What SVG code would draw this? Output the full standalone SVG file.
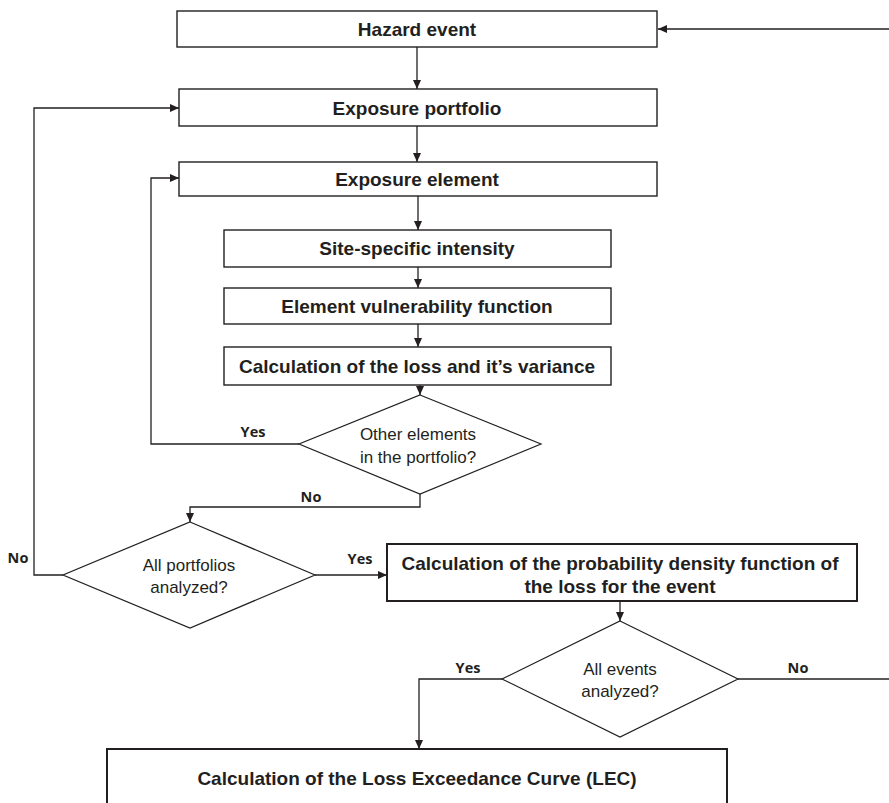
<svg xmlns="http://www.w3.org/2000/svg" width="889" height="803" viewBox="0 0 889 803">
<style>
.box{fill:#fff;stroke:#231f20;stroke-width:1.4}
.thick{stroke-width:2}
.dia{fill:#fff;stroke:#231f20;stroke-width:1.2}
.lbl{font-family:"Liberation Sans",Arial,sans-serif;font-weight:bold;font-size:19px;fill:#231f20;text-anchor:middle}
.q{font-family:"Liberation Sans",Arial,sans-serif;font-size:17px;fill:#231f20;text-anchor:middle}
.yn{font-family:"Open Sans","Liberation Sans",sans-serif;font-weight:bold;font-size:14.5px;fill:#231f20;text-anchor:middle}
.con{fill:none;stroke:#231f20;stroke-width:1.3}
</style>
<defs>
<marker id="ah" markerUnits="userSpaceOnUse" markerWidth="10" markerHeight="8" refX="9" refY="4" orient="auto">
<path d="M0,0 L9,4 L0,8 z" fill="#231f20"/>
</marker>
</defs>
<g id="connectors">
<path class="con" d="M889,29 H658" marker-end="url(#ah)"/>
<path class="con" d="M417,47 V89" marker-end="url(#ah)"/>
<path class="con" d="M417,126 V162" marker-end="url(#ah)"/>
<path class="con" d="M418,196 V230" marker-end="url(#ah)"/>
<path class="con" d="M418,267 V288" marker-end="url(#ah)"/>
<path class="con" d="M418,324 V347" marker-end="url(#ah)"/>
<path class="con" d="M420,385 V395" marker-end="url(#ah)"/>
<path class="con" d="M299,444 H151 V178 H179" marker-end="url(#ah)"/>
<path class="con" d="M420,494 V507 H190 V522" marker-end="url(#ah)"/>
<path class="con" d="M63,575 H34 V108 H179" marker-end="url(#ah)"/>
<path class="con" d="M315,575 H387" marker-end="url(#ah)"/>
<path class="con" d="M620,601 V621" marker-end="url(#ah)"/>
<path class="con" d="M738,679 H889"/>
<path class="con" d="M502,679 H419 V749" marker-end="url(#ah)"/>
<text class="yn" x="253" y="437">Yes</text>
<text class="yn" x="311" y="502">No</text>
<text class="yn" x="18" y="563">No</text>
<text class="yn" x="360" y="564">Yes</text>
<text class="yn" x="468" y="673">Yes</text>
<text class="yn" x="798" y="673">No</text>
</g>
<g id="hazard">
<rect class="box" x="177" y="11" width="480" height="36"/>
<text class="lbl" x="417" y="36">Hazard event</text>
</g>
<g id="portfolio">
<rect class="box" x="179" y="89" width="478" height="37"/>
<text class="lbl" x="417" y="115">Exposure portfolio</text>
</g>
<g id="element">
<rect class="box" x="179" y="162" width="478" height="34"/>
<text class="lbl" x="417" y="186">Exposure element</text>
</g>
<g id="intensity">
<rect class="box" x="224" y="230" width="387" height="37"/>
<text class="lbl" x="417" y="255">Site-specific intensity</text>
</g>
<g id="vulnerability">
<rect class="box" x="224" y="288" width="387" height="36"/>
<text class="lbl" x="417" y="313">Element vulnerability function</text>
</g>
<g id="loss">
<rect class="box" x="224" y="347" width="387" height="38"/>
<text class="lbl" x="417" y="373">Calculation of the loss and it’s variance</text>
</g>
<g id="other-elements">
<polygon class="dia" points="420,395 541,444 420,494 299,444"/>
<text class="q" x="418" y="440">Other elements</text>
<text class="q" x="418" y="463">in the portfolio?</text>
</g>
<g id="all-portfolios">
<polygon class="dia" points="190,522 315,575 190,628 63,575"/>
<text class="q" x="189" y="571">All portfolios</text>
<text class="q" x="189" y="593">analyzed?</text>
</g>
<g id="pdf">
<rect class="box thick" x="387" y="544" width="470" height="57"/>
<text class="lbl" x="620" y="570">Calculation of the probability density function of</text>
<text class="lbl" x="620" y="593">the loss for the event</text>
</g>
<g id="all-events">
<polygon class="dia" points="620,621 738,679 620,737 502,679"/>
<text class="q" x="620" y="675">All events</text>
<text class="q" x="620" y="697">analyzed?</text>
</g>
<g id="lec">
<rect class="box thick" x="107" y="749" width="620" height="70"/>
<text class="lbl" x="417" y="785">Calculation of the Loss Exceedance Curve (LEC)</text>
</g>
</svg>
